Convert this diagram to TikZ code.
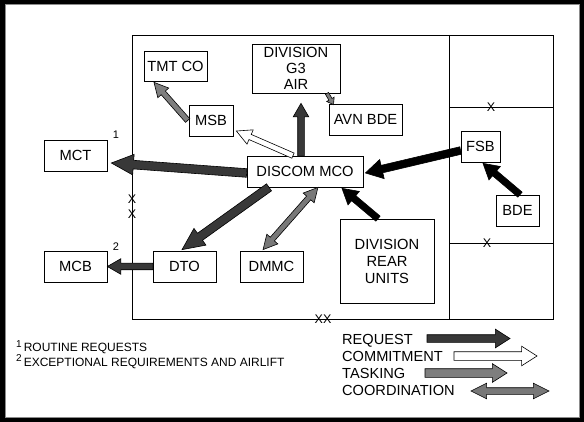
\documentclass[tikz,border=0pt]{standalone}
\usepackage{fontspec}
\setmainfont{Liberation Sans}
\usetikzlibrary{calc,shapes.arrows}
\definecolor{reqgray}{HTML}{383838}
\definecolor{taskgray}{HTML}{7E7E7E}
\definecolor{coordgray}{HTML}{787878}
\newcommand\bxfont{\fontsize{14.7}{16}\selectfont}
\newcommand\supnum[1]{{\fontsize{10}{10}\selectfont\raisebox{4.5pt}{#1}}\hspace{2pt}}
\newcommand\myblockarrow[3]{%
  \path let \p1=(#2), \p2=(#3), \n1={atan2(\y2-\y1,\x2-\x1)}, \n2={veclen(\x2-\x1,\y2-\y1)} in
    node[#1, minimum height=\n2, rotate=\n1, anchor=tail] at (\p1) {};}
\newcommand\mydoublearrow[3]{%
  \path let \p1=(#2), \p2=(#3), \p3=($(#2)!0.5!(#3)$), \n1={atan2(\y2-\y1,\x2-\x1)}, \n2={veclen(\x2-\x1,\y2-\y1)} in
    node[#1, minimum height=\n2, rotate=\n1, anchor=center] at (\p3) {};}
\begin{document}
\begin{tikzpicture}[x=1pt,y=-1pt,
  box/.style={draw=black, line width=0.7pt, fill=white, inner sep=0pt, align=center, font=\bxfont},
  arrbase/.style={single arrow, draw=black, line width=0.6pt, inner xsep=0pt, outer sep=0pt},
  reqbig/.style={arrbase, fill=reqgray, inner ysep=4pt, single arrow head extend=6pt, single arrow tip angle=50},
  reqsmall/.style={arrbase, fill=reqgray, inner ysep=3pt, single arrow head extend=4.5pt, single arrow tip angle=60},
  commit/.style={arrbase, fill=white, inner ysep=2.5pt, single arrow head extend=5pt, single arrow tip angle=55},
  task/.style={arrbase, fill=taskgray, inner ysep=2.5pt, single arrow head extend=4.5pt, single arrow tip angle=55},
  tasktiny/.style={arrbase, fill=taskgray, inner ysep=1.5pt, single arrow head extend=2.5pt, single arrow tip angle=70},
  coord/.style={double arrow, draw=black, line width=0.6pt, inner xsep=0pt, outer sep=0pt, fill=coordgray, inner ysep=2.5pt, double arrow head extend=4.5pt, double arrow tip angle=55},
  blk/.style={arrbase, fill=black, inner ysep=3pt, single arrow head extend=5.5pt, single arrow tip angle=60},
  blkbig/.style={arrbase, fill=black, inner ysep=3.5pt, single arrow head extend=6pt, single arrow tip angle=60},
  lreq/.style={arrbase, fill=reqgray, inner ysep=3.5pt, single arrow head extend=5.5pt, single arrow tip angle=65},
  lcommit/.style={arrbase, fill=white, inner ysep=4pt, single arrow head extend=5.5pt, single arrow tip angle=65},
  ltask/.style={arrbase, fill=taskgray, inner ysep=4pt, single arrow head extend=5pt, single arrow tip angle=65},
  lcoord/.style={double arrow, draw=black, line width=0.6pt, inner xsep=0pt, outer sep=0pt, fill=coordgray, inner ysep=3pt, double arrow head extend=4.5pt, double arrow tip angle=53},
  xmark/.style={font=\fontsize{12.5}{12.5}\selectfont, inner sep=0pt},
  legtext/.style={font=\fontsize{14.6}{16}\selectfont, anchor=base west, inner sep=0pt},
  foot/.style={font=\fontsize{12}{14}\selectfont, anchor=base west, inner sep=0pt},
  num/.style={font=\fontsize{11}{12}\selectfont, inner sep=0pt}
]
\useasboundingbox (0,0) rectangle (584,422);
% frame
\fill[black] (0,0) rectangle (584,422);
\fill[white] (5,4) rectangle (580,418);
\draw[black!45, line width=1.5pt] (5.5,4.5) rectangle (579.5,417.5);
% region lines
\draw[line width=0.8pt] (132,35) rectangle (553,319);
\draw[line width=0.8pt] (449,35) -- (449,319);
\draw[line width=0.8pt] (449,107) -- (553,107);
\draw[line width=0.8pt] (449,243) -- (553,243);
% X marks
\node[xmark] (x1) at (132,199) {X};
\node[xmark] (x2) at (132,214) {X};
\node[xmark] (x3) at (491,107) {X};
\node[xmark] (x4) at (487,243) {X};
\node[xmark] (x5) at (323,319) {XX};
% boxes
\node[box, minimum width=63pt, minimum height=30pt] (tmt) at (175.5,66) {TMT CO};
\node[box, minimum width=88pt, minimum height=49pt] (g3) at (296,68.5) {DIVISION\\G3\\AIR};
\node[box, minimum width=73pt, minimum height=31pt] (avn) at (365.5,119.5) {AVN BDE};
\node[box, minimum width=44pt, minimum height=31pt] (msb) at (211,120.5) {MSB};
\node[box, minimum width=63pt, minimum height=31pt] (mct) at (75.5,155.5) {MCT};
\node[box, minimum width=116pt, minimum height=31pt] (mco) at (305,171.5) {DISCOM MCO};
\node[box, minimum width=39pt, minimum height=31pt] (fsb) at (480.5,146.5) {FSB};
\node[box, minimum width=43pt, minimum height=31pt] (bde) at (517.5,210.5) {BDE};
\node[box, minimum width=63pt, minimum height=31pt] (mcb) at (75.5,266.5) {MCB};
\node[box, minimum width=63pt, minimum height=31pt] (dto) at (184.5,266.5) {DTO};
\node[box, minimum width=63pt, minimum height=31pt] (dmmc) at (271.5,266.5) {DMMC};
\node[box, minimum width=94pt, minimum height=84pt, font=\fontsize{14.7}{17}\selectfont] (rear) at (387,261) {DIVISION\\REAR\\UNITS};
% small labels
\node[num] (n1) at (116,135) {1};
\node[num] (n2) at (116,247) {2};
% arrows
\myblockarrow{reqbig}{$(mco.west)+(0,1.5)$}{$(mct.east)+(4,7.5)$}
\myblockarrow{reqsmall}{$(mco.north)+(-4,0)$}{$(g3.south)+(5,10)$}
\myblockarrow{commit}{$(mco.north)+(-12,0)$}{$(msb.east)+(3,10.5)$}
\myblockarrow{task}{$(msb.west)+(-1,0)$}{$(tmt.south)+(-21.5,1)$}
\myblockarrow{tasktiny}{$(g3.south)+(31,0)$}{$(avn.north)+(-32,1)$}
\myblockarrow{blkbig}{$(fsb.west)+(0,4)$}{$(mco.east)+(2,1.5)$}
\myblockarrow{blk}{$(bde.north)+(2.5,0)$}{$(fsb.south)+(2.5,1)$}
\myblockarrow{blk}{$(rear.north)+(-9,0)$}{$(mco.south)+(37,1)$}
\myblockarrow{reqbig}{$(mco.south)+(-36,0)$}{$(dto.north)+(-2.5,-1)$}
\mydoublearrow{coord}{$(dmmc.north)+(-8.5,-1)$}{$(mco.south)+(13,0)$}
\myblockarrow{reqsmall}{dto.west}{mcb.east}
% footnotes
\node[foot] (f1) at (16,352) {\supnum{1}ROUTINE REQUESTS};
\node[foot] (f2) at (16,366) {\supnum{2}EXCEPTIONAL REQUIREMENTS AND AIRLIFT};
% legend
\node[legtext] (lr) at (342,344) {REQUEST};
\node[legtext] (lc) at (342,361) {COMMITMENT};
\node[legtext] (lt) at (342,378) {TASKING};
\node[legtext] (lo) at (342,395) {COORDINATION};
\coordinate (lra) at (427,338.5);
\coordinate (lrb) at (510,338.5);
\coordinate (lca) at (454,356);
\coordinate (lcb) at (537,356);
\coordinate (lta) at (425,373);
\coordinate (ltb) at (507,373);
\coordinate (loa) at (471,391);
\coordinate (lob) at (549,391);
\myblockarrow{lreq}{lra}{lrb}
\myblockarrow{lcommit}{lca}{lcb}
\myblockarrow{ltask}{lta}{ltb}
\mydoublearrow{lcoord}{loa}{lob}
\end{tikzpicture}
\end{document}
